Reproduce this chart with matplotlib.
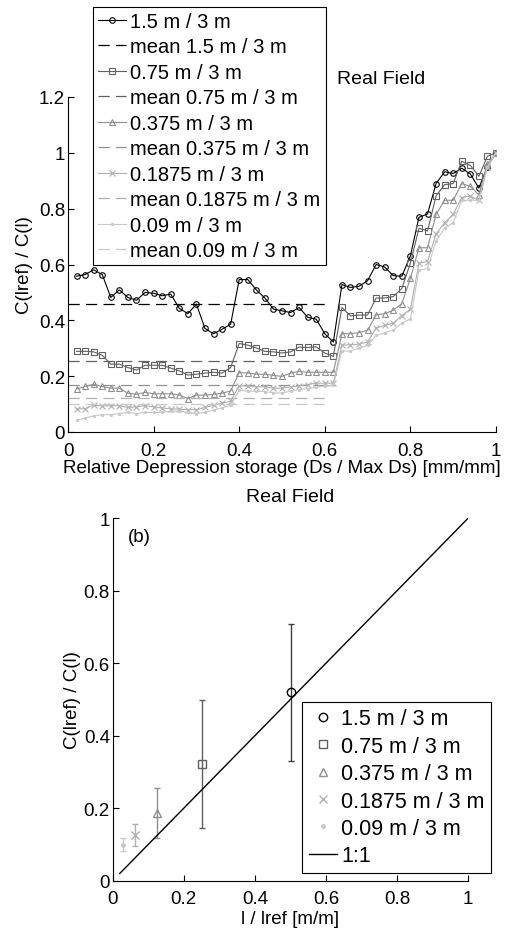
import numpy as np
import matplotlib
matplotlib.use("Agg")
import matplotlib.pyplot as plt
from matplotlib.lines import Line2D

plt.rcParams['font.family'] = ['Liberation Sans', 'DejaVu Sans']

# relative depression storage steps
depth = np.linspace(0.02, 1.0, 50)

# C(lref)/C(l) for each sub-window size
c_150 = [0.558, 0.564, 0.581, 0.564, 0.482, 0.509, 0.482, 0.472, 0.500, 0.497,
         0.488, 0.494, 0.443, 0.424, 0.458, 0.371, 0.352, 0.368, 0.386, 0.546,
         0.546, 0.509, 0.480, 0.440, 0.434, 0.428, 0.446, 0.411, 0.404, 0.352,
         0.322, 0.528, 0.518, 0.522, 0.542, 0.600, 0.591, 0.560, 0.558, 0.631,
         0.769, 0.781, 0.890, 0.932, 0.926, 0.945, 0.924, 0.874, 0.950, 1.0]
c_075 = [0.289, 0.289, 0.287, 0.275, 0.243, 0.243, 0.231, 0.222, 0.239, 0.239,
         0.239, 0.229, 0.219, 0.204, 0.207, 0.211, 0.214, 0.211, 0.231, 0.317,
         0.311, 0.301, 0.289, 0.287, 0.283, 0.287, 0.304, 0.303, 0.305, 0.283,
         0.271, 0.446, 0.416, 0.419, 0.419, 0.480, 0.480, 0.485, 0.514, 0.605,
         0.730, 0.720, 0.846, 0.886, 0.890, 0.970, 0.955, 0.916, 0.988, 1.0]
c_0375 = [0.154, 0.163, 0.171, 0.163, 0.157, 0.157, 0.139, 0.135, 0.142, 0.137,
          0.137, 0.137, 0.132, 0.120, 0.132, 0.132, 0.135, 0.139, 0.147, 0.213,
          0.211, 0.207, 0.207, 0.203, 0.199, 0.211, 0.217, 0.214, 0.214, 0.214,
          0.214, 0.352, 0.352, 0.356, 0.364, 0.419, 0.424, 0.436, 0.460, 0.550,
          0.660, 0.660, 0.780, 0.830, 0.830, 0.890, 0.880, 0.850, 0.960, 1.0]
c_01875 = [0.082, 0.084, 0.096, 0.094, 0.094, 0.094, 0.088, 0.090, 0.094, 0.090,
           0.086, 0.083, 0.082, 0.080, 0.080, 0.088, 0.096, 0.103, 0.110, 0.165,
           0.165, 0.162, 0.162, 0.157, 0.157, 0.162, 0.165, 0.170, 0.175, 0.175,
           0.175, 0.312, 0.312, 0.315, 0.322, 0.372, 0.382, 0.390, 0.417, 0.440,
           0.605, 0.610, 0.710, 0.750, 0.780, 0.840, 0.845, 0.830, 0.950, 1.0]
c_009 = [0.042, 0.050, 0.058, 0.062, 0.062, 0.066, 0.070, 0.066, 0.070, 0.070,
         0.070, 0.075, 0.075, 0.070, 0.066, 0.070, 0.078, 0.087, 0.096, 0.150,
         0.146, 0.146, 0.145, 0.140, 0.140, 0.146, 0.152, 0.155, 0.160, 0.165,
         0.168, 0.290, 0.290, 0.300, 0.310, 0.346, 0.355, 0.365, 0.390, 0.405,
         0.580, 0.585, 0.685, 0.730, 0.750, 0.830, 0.830, 0.830, 0.950, 1.0]

names = ['1.5 m / 3 m', '0.75 m / 3 m', '0.375 m / 3 m', '0.1875 m / 3 m', '0.09 m / 3 m']
means = [0.46, 0.255, 0.168, 0.123, 0.099]
mean_span = [0.0, 0.61]

# panel (b): mean ratio and spread vs. window size
l_ratio = [0.5, 0.25, 0.125, 0.0625, 0.03]
c_mean = [0.519, 0.322, 0.187, 0.126, 0.099]
c_err = [0.19, 0.176, 0.068, 0.031, 0.018]

colors = ['black', '#606060', '#909090', '#b0b0b0', '#c8c8c8']
markers = ['o', 's', '^', 'x', '.']
msizes = [4, 4, 5, 4, 3]

FS = 13.5

fig = plt.figure(figsize=(5.07, 9.29), dpi=100)

# --- top panel
ax1 = fig.add_axes([68/507, 1-433/929, 428/507, 335/929])
series = [c_150, c_075, c_0375, c_01875, c_009]
for s, m, c, mk, ms, nm in zip(series, means, colors, markers, msizes, names):
    face = c if mk == '.' else 'none'
    ax1.plot(depth, s, color=c, lw=0.8, marker=mk, ms=ms, mfc=face, mec=c,
             mew=0.8, label=nm)
    ax1.plot(mean_span, [m, m], color=c, lw=0.9, dashes=(9, 5), label='mean ' + nm)

ax1.set_xlim(0, 1)
ax1.set_ylim(0, 1.2)
ax1.set_xticks([0, 0.2, 0.4, 0.6, 0.8, 1])
ax1.set_xticklabels(['0', '0.2', '0.4', '0.6', '0.8', '1'])
ax1.set_yticks([0, 0.2, 0.4, 0.6, 0.8, 1, 1.2])
ax1.set_yticklabels(['0', '0.2', '0.4', '0.6', '0.8', '1', '1.2'])
ax1.set_xlabel('Relative Depression storage (Ds / Max Ds) [mm/mm]', fontsize=FS, labelpad=0)
ax1.set_ylabel('C(lref) / C(l)', fontsize=FS, labelpad=4)
fig.text(337/507, 1-80/929, 'Real Field', fontsize=14, va='center', ha='left')

leg1 = ax1.legend(loc='upper left', bbox_to_anchor=(93/507, 1-8/929),
                  bbox_transform=fig.transFigure, borderaxespad=0, fontsize=14.5,
                  handlelength=1.4, handletextpad=0.2, labelspacing=0.32,
                  fancybox=False, framealpha=1, edgecolor='black', borderpad=0.25)
leg1.get_frame().set_linewidth(0.8)

# --- bottom panel
ax2 = fig.add_axes([112.7/507, 1-881.7/929, 355.6/507, 362.7/929])
handles = []
for x, y, e, c, mk, nm in zip(l_ratio, c_mean, c_err, colors, markers, names):
    ms = 6 if mk != '.' else 5
    face = c if mk == '.' else 'none'
    ax2.errorbar([x], [y], yerr=[e], color=c, ecolor=c if c != 'black' else '#404040',
                 elinewidth=1, capsize=2, capthick=0.8, marker=mk, ms=ms,
                 mfc=face, mec=c, mew=1, ls='none')
    handles.append(Line2D([], [], ls='none', marker=mk, ms=ms, mfc=face,
                          mec=c, mew=1, label=nm))
line11, = ax2.plot([0.02, 1], [0.02, 1], color='black', lw=1, label='1:1')
handles.append(line11)

ax2.set_xlim(0, 1)
ax2.set_ylim(0, 1)
ax2.set_xticks([0, 0.2, 0.4, 0.6, 0.8, 1])
ax2.set_xticklabels(['0', '0.2', '0.4', '0.6', '0.8', '1'])
ax2.set_yticks([0, 0.2, 0.4, 0.6, 0.8, 1])
ax2.set_yticklabels(['0', '0.2', '0.4', '0.6', '0.8', '1'])
ax2.set_xlabel('l / lref [m/m]', fontsize=FS, labelpad=2)
ax2.set_ylabel('C(lref) / C(l)', fontsize=FS, labelpad=2)
ax2.set_title('Real Field', fontsize=14, pad=12)
ax2.text(0.043, 0.95, '(b)', fontsize=FS, va='center')

leg2 = ax2.legend(handles=handles, loc='upper left', bbox_to_anchor=(302.3/507, 1-702.7/929),
                  bbox_transform=fig.transFigure, borderaxespad=0, fontsize=15.5,
                  handlelength=1.3, handletextpad=0.2, labelspacing=0.3,
                  fancybox=False, framealpha=1, edgecolor='black', borderpad=0.3)
leg2.get_frame().set_linewidth(0.8)

for ax in (ax1, ax2):
    ax.spines['top'].set_visible(False)
    ax.spines['right'].set_visible(False)
    ax.tick_params(direction='in', length=4, width=0.8, labelsize=FS, pad=2)
    ax.tick_params(axis='x', pad=7)

fig.savefig('out.png', dpi=100)
